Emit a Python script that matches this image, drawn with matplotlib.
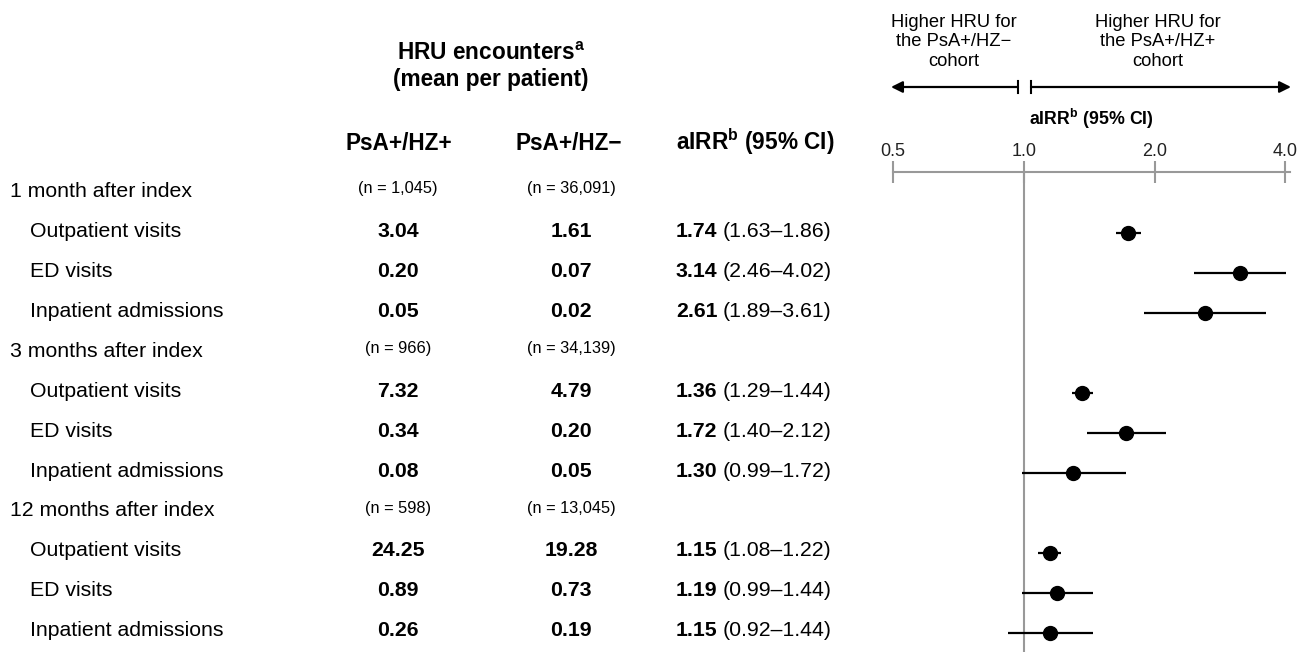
import numpy as np
import matplotlib
matplotlib.use("Agg")
import matplotlib.pyplot as plt
import matplotlib.transforms as mtransforms

plt.rcParams['font.family'] = ['Liberation Sans', 'DejaVu Sans']
plt.rcParams['mathtext.fontset'] = 'custom'
plt.rcParams['mathtext.rm'] = 'Liberation Sans'
plt.rcParams['mathtext.bf'] = 'Liberation Sans:bold'

# data
groups = ['1 month after index', '3 months after index', '12 months after index']
n_pos = ['1,045', '966', '598']
n_neg = ['36,091', '34,139', '13,045']
outcomes = ['Outpatient visits', 'ED visits', 'Inpatient admissions']
mean_pos = [[3.04, 0.20, 0.05], [7.32, 0.34, 0.08], [24.25, 0.89, 0.26]]
mean_neg = [[1.61, 0.07, 0.02], [4.79, 0.20, 0.05], [19.28, 0.73, 0.19]]
airr = [[1.74, 3.14, 2.61], [1.36, 1.72, 1.30], [1.15, 1.19, 1.15]]
ci_lo = [[1.63, 2.46, 1.89], [1.29, 1.40, 0.99], [1.08, 0.99, 0.92]]
ci_hi = [[1.86, 4.02, 3.61], [1.44, 2.12, 1.72], [1.22, 1.44, 1.44]]
xticks = [0.5, 1.0, 2.0, 4.0]

W, H = 1299, 652
fig = plt.figure(figsize=(W / 100, H / 100), dpi=100)

# full-figure layer in pixel units for the table text
bg = fig.add_axes([0, 0, 1, 1])
bg.set_xlim(0, W)
bg.set_ylim(H, 0)
bg.axis('off')

# forest panel
x0, x1, ytop = 893, 1290, 172
ax = fig.add_axes([x0 / W, 0, (x1 - x0) / W, (H - ytop) / H])
ax.set_facecolor('none')
ax.set_xscale('log', base=2)
ax.set_xlim(0.5, 4.1)
ax.set_ylim(11.475, -0.525)
ax.xaxis.tick_top()
ax.set_xticks(xticks)
ax.set_xticklabels([f'{t:.1f}' for t in xticks])
ax.xaxis.set_minor_locator(matplotlib.ticker.NullLocator())
ax.tick_params(axis='x', direction='inout', length=16, width=1.5, color='#999999',
               labelsize=13, labelcolor='#222222', pad=1)
ax.set_yticks([])
for s in ['left', 'right', 'bottom']:
    ax.spines[s].set_visible(False)
ax.spines['top'].set_color('#999999')
ax.spines['top'].set_linewidth(1.5)
ax.axvline(1.0, color='#999999', lw=1.5, zorder=1)

tr = mtransforms.blended_transform_factory(bg.transData, ax.transData)
tr_row = tr + mtransforms.ScaledTranslation(0, -0.035, fig.dpi_scale_trans)

fs = 15.3
row = 0
for g in range(3):
    bg.text(10, row, groups[g], transform=tr_row, fontsize=fs, va='baseline', ha='left')
    bg.text(398, row, f'(n = {n_pos[g]})', transform=tr, fontsize=11.8,
            va='baseline', ha='center')
    bg.text(571, row, f'(n = {n_neg[g]})', transform=tr, fontsize=11.8,
            va='baseline', ha='center')
    row += 1
    for k in range(3):
        bg.text(30, row, outcomes[k], transform=tr_row, fontsize=fs, va='baseline', ha='left')
        bg.text(398, row, f'{mean_pos[g][k]:.2f}', transform=tr_row, fontsize=fs,
                fontweight='bold', va='baseline', ha='center')
        bg.text(571, row, f'{mean_neg[g][k]:.2f}', transform=tr_row, fontsize=fs,
                fontweight='bold', va='baseline', ha='center')
        bg.text(676, row, f'{airr[g][k]:.2f}', transform=tr_row, fontsize=fs,
                fontweight='bold', va='baseline', ha='left')
        bg.text(723, row, f'({ci_lo[g][k]:.2f}\u2013{ci_hi[g][k]:.2f})', transform=tr_row,
                fontsize=fs, va='baseline', ha='left')
        ax.plot([ci_lo[g][k], ci_hi[g][k]], [row, row], color='black', lw=1.6,
                solid_capstyle='butt', zorder=3)
        ax.plot(airr[g][k], row, 'o', color='black', ms=10, zorder=4)
        row += 1

# headers
bg.text(491, 60, r'HRU encounters$^{\mathbf{a}}$', fontsize=16.3, fontweight='bold',
        ha='center', va='baseline')
bg.text(491, 86, '(mean per patient)', fontsize=16.3, fontweight='bold',
        ha='center', va='baseline')
bg.text(399, 150, 'PsA+/HZ+', fontsize=16.3, fontweight='bold', ha='center', va='baseline')
bg.text(569, 150, 'PsA+/HZ\u2212', fontsize=16.3, fontweight='bold', ha='center',
        va='baseline')
bg.text(676, 150, r'aIRR$^{\mathbf{b}}$ (95% CI)', fontsize=16.3, fontweight='bold',
        ha='left', va='baseline')

# direction arrows
bg.text(954, 42, 'Higher HRU for\nthe PsA+/HZ\u2212\ncohort', fontsize=13.2,
        ha='center', va='center', linespacing=1.2)
bg.text(1158, 42, 'Higher HRU for\nthe PsA+/HZ+\ncohort', fontsize=13.2,
        ha='center', va='center', linespacing=1.2)
bg.annotate('', xy=(891, 87), xytext=(1018, 87),
            arrowprops=dict(arrowstyle='-|>', mutation_scale=17, lw=1.6, color='black',
                            shrinkA=0, shrinkB=0))
bg.annotate('', xy=(1291, 87), xytext=(1031, 87),
            arrowprops=dict(arrowstyle='-|>', mutation_scale=17, lw=1.6, color='black',
                            shrinkA=0, shrinkB=0))
bg.plot([1018, 1018], [81, 93], color='black', lw=1.5)
bg.plot([1031, 1031], [81, 93], color='black', lw=1.5)
bg.text(1091, 119, r'aIRR$^{\mathbf{b}}$ (95% CI)', fontsize=12.8, fontweight='bold',
        ha='center', va='center')

fig.savefig('out.png', dpi=100)
